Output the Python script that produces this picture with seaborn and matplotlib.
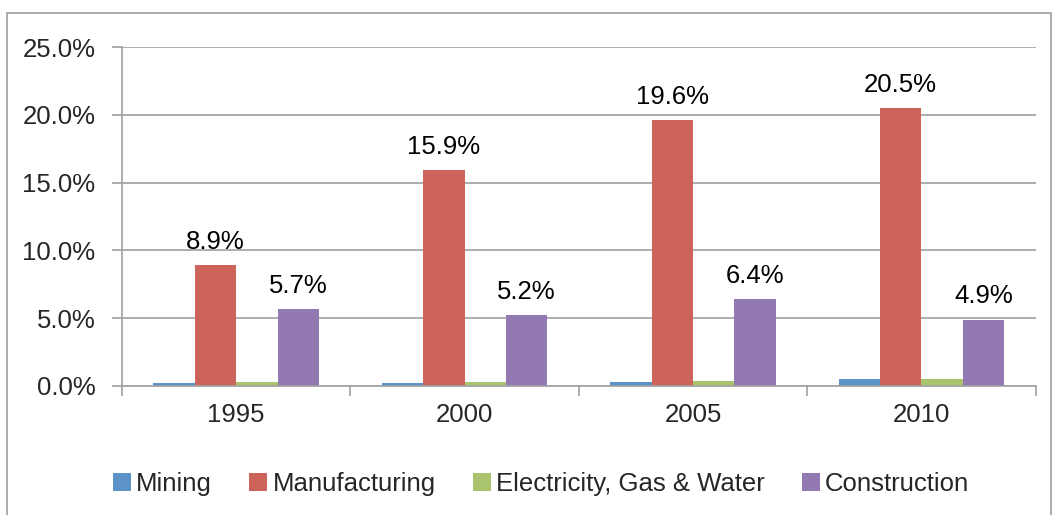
import matplotlib
matplotlib.use("Agg")
import matplotlib.pyplot as plt
import seaborn as sns
import pandas as pd
from matplotlib.patches import Rectangle

years = ["1995", "2000", "2005", "2010"]
sectors = ["Mining", "Manufacturing", "Electricity, Gas & Water", "Construction"]
mining = [0.2, 0.2, 0.3, 0.55]
manufacturing = [8.9, 15.9, 19.6, 20.5]
electricity = [0.3, 0.3, 0.35, 0.55]
construction = [5.7, 5.2, 6.4, 4.9]
colors = ["#5b93c9", "#cd645c", "#a9c46c", "#9279b2"]

rows = []
for s, vals in zip(sectors, [mining, manufacturing, electricity, construction]):
    for y, v in zip(years, vals):
        rows.append({"year": y, "sector": s, "value": v})
df = pd.DataFrame(rows)

sns.set_style("white")
plt.rcParams["font.family"] = ["Liberation Sans", "DejaVu Sans"]
fs = 18.5

fig = plt.figure(figsize=(10.6, 5.15), dpi=100)
ax = fig.add_axes([0.115, 0.2505, 0.862, 0.6582])

sns.barplot(data=df, x="year", y="value", hue="sector", order=years,
            hue_order=sectors, palette=colors, width=0.725, saturation=1,
            ax=ax, errorbar=None, linewidth=0)

# value labels on manufacturing and construction only
for cont, s in zip(ax.containers, sectors):
    if s in ("Manufacturing", "Construction"):
        ax.bar_label(cont, labels=[f"{v:.1f}%" for v in cont.datavalues],
                     padding=8, fontsize=fs, color="black")

ax.set_ylim(0, 25)
ax.set_xlim(-0.5, 3.5)
ax.set_yticks([0, 5, 10, 15, 20, 25])
ax.set_yticklabels([f"{t:.1f}%" for t in [0, 5, 10, 15, 20, 25]], fontsize=fs)
ax.tick_params(axis="y", length=7, color="#a0a0a0", width=1.2, pad=12, left=True)
ax.set_xticks([0, 1, 2, 3])
ax.set_xticklabels(years, fontsize=fs)
ax.set_xticks([-0.5, 0.5, 1.5, 2.5, 3.5], minor=True)
ax.tick_params(axis="x", which="major", length=0, pad=12)
ax.tick_params(axis="x", which="minor", length=7, color="#a0a0a0", width=1.2, bottom=True)
ax.yaxis.grid(True, color="#a0a0a0", linewidth=1.2)
ax.set_axisbelow(True)
for side in ["top", "right"]:
    ax.spines[side].set_visible(False)
for side in ["left", "bottom"]:
    ax.spines[side].set_color("#a0a0a0")
    ax.spines[side].set_linewidth(1.2)
ax.set_xlabel("")
ax.set_ylabel("")

ax.legend(loc="upper center", bbox_to_anchor=(0.459, -0.185), ncol=4, frameon=False,
          fontsize=fs, handlelength=0.7, handleheight=0.7, handletextpad=0.2,
          columnspacing=1.45)

fig.patches.append(Rectangle((7 / 1060, -0.05), 1044 / 1060, 1 - 13 / 515 + 0.05,
                             transform=fig.transFigure, fill=False,
                             edgecolor="#a0a0a0", linewidth=1.2))

fig.savefig("out.png", dpi=100)
